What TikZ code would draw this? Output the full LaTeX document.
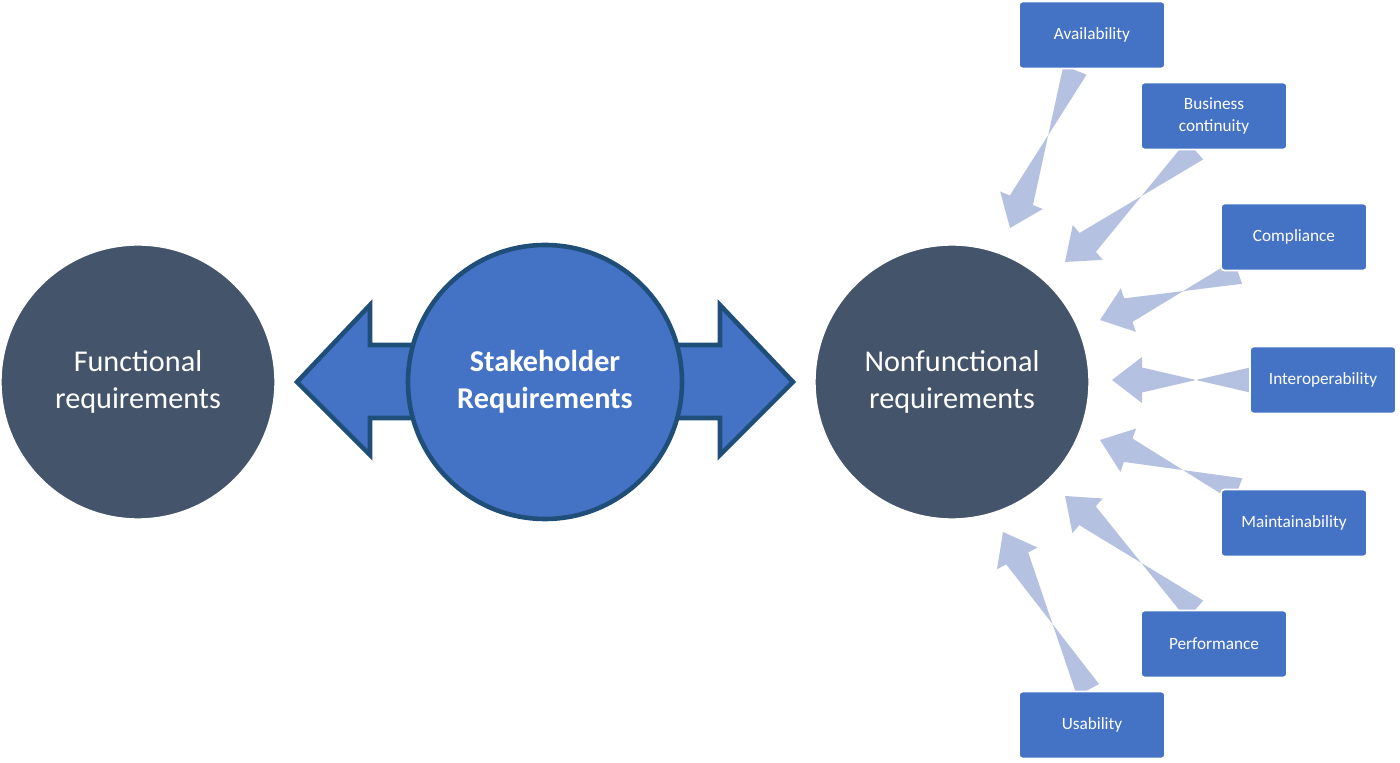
\documentclass[tikz,border=0pt]{standalone}
\usepackage{fontspec}
\setmainfont{Carlito}
\usetikzlibrary{calc}
\definecolor{slate}{HTML}{44546A}
\definecolor{mblue}{HTML}{4472C4}
\definecolor{dblue}{HTML}{1F4E79}
\definecolor{lblue}{HTML}{B4C1E1}
\tikzset{
 circ/.style={circle,minimum size=2.74cm,fill=slate,draw=white,line width=0.4pt,text=white,align=center,font=\fontsize{8.6}{10.4}\selectfont,inner sep=0pt},
 box/.style={rectangle,rounded corners=1pt,minimum width=1.46cm,minimum height=0.67cm,fill=mblue,draw=white,line width=0.5pt,text=white,align=center,font=\fontsize{4.9}{6}\selectfont,inner sep=1pt},
 light/.style={fill=lblue,draw=none}
}
\newcommand{\blockarrow}[2]{%
 \fill[light] ($(#1)!0.125cm!90:(#2)$) -- ($($(#2)!0.3cm!(#1)$)!0.125cm!-90:(#2)$) -- ($($(#2)!0.3cm!(#1)$)!0.23cm!-90:(#2)$) -- (#2) -- ($($(#2)!0.3cm!(#1)$)!0.23cm!90:(#2)$) -- ($($(#2)!0.3cm!(#1)$)!0.125cm!90:(#2)$) -- ($(#1)!0.125cm!-90:(#2)$) -- cycle;}
\begin{document}
\begin{tikzpicture}
\useasboundingbox (0,0) rectangle (14,7.62);
\node[circ] (fr) at (1.38,3.8) {Functional\\requirements};
\node[circ] (nf) at (9.52,3.8) {Nonfunctional\\requirements};
% double arrow
\filldraw[fill=mblue,draw=dblue,line width=1.3pt]
 (2.97,3.8) -- (3.7,4.57) -- (3.7,4.17) -- (7.2,4.17) -- (7.2,4.57) -- (7.93,3.8)
 -- (7.2,3.07) -- (7.2,3.44) -- (3.7,3.44) -- (3.7,3.07) -- cycle;
\node[circ,fill=mblue,draw=dblue,line width=1.3pt,font=\bfseries\fontsize{8.6}{10.4}\selectfont] (sr) at (5.45,3.8) {Stakeholder\\Requirements};
\node[box] (av) at (10.92,7.27) {Availability};
\node[box] (bc) at (12.14,6.46) {Business\\continuity};
\node[box] (co) at (12.94,5.25) {Compliance};
\node[box] (io) at (13.23,3.82) {Interoperability};
\node[box] (ma) at (12.94,2.39) {Maintainability};
\node[box] (pe) at (12.14,1.18) {Performance};
\node[box] (us) at (10.92,0.37) {Usability};
\coordinate (avs) at (10.75,6.92); \coordinate (avt) at (10.10,5.34);
\coordinate (bcs) at (11.95,6.12); \coordinate (bct) at (10.65,5.00);
\coordinate (cos) at (12.38,4.90); \coordinate (cot) at (11.00,4.42);
\coordinate (ios) at (12.50,3.82); \coordinate (iot) at (11.12,3.82);
\coordinate (mas) at (12.38,2.72); \coordinate (mat) at (11.00,3.22);
\coordinate (pes) at (11.95,1.52); \coordinate (pet) at (10.65,2.66);
\coordinate (uss) at (10.88,0.72); \coordinate (ust) at (10.03,2.30);
\blockarrow{avs}{avt}
\blockarrow{bcs}{bct}
\blockarrow{cos}{cot}
\blockarrow{ios}{iot}
\blockarrow{mas}{mat}
\blockarrow{pes}{pet}
\blockarrow{uss}{ust}
\node[box] at (av) {Availability};
\node[box] at (bc) {Business\\continuity};
\node[box] at (co) {Compliance};
\node[box] at (io) {Interoperability};
\node[box] at (ma) {Maintainability};
\node[box] at (pe) {Performance};
\node[box] at (us) {Usability};
\end{tikzpicture}
\end{document}
